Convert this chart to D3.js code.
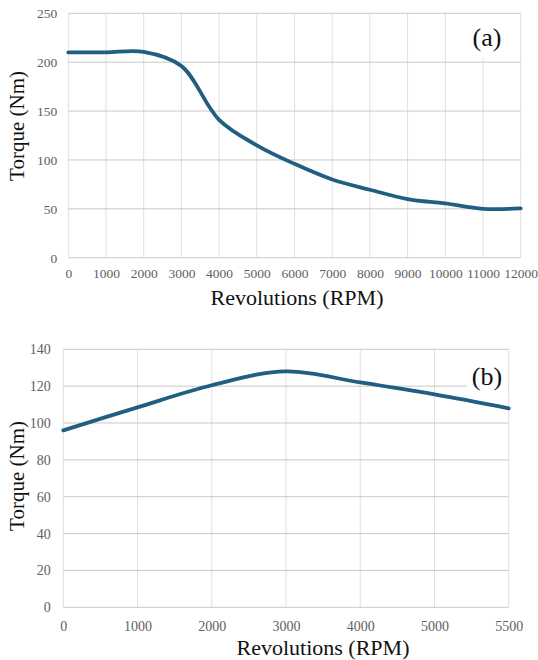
<!doctype html>
<html lang="en">
<head>
  <meta charset="utf-8">
  <title>Torque vs Revolutions</title>
  <style>
   body {
       margin: 0;
       background-color: #fff;
   }
  </style>
</head>
<body>
    <svg id="chart" width="538" height="660" xmlns="http://www.w3.org/2000/svg"></svg>
    <script src="https://cdn.jsdelivr.net/npm/d3@7"></script>
    <script>

     // panel (a): torque curve, every 1000 rpm
     var rpmA = [0, 1000, 2000, 3000, 4000, 5000, 6000, 7000, 8000, 9000, 10000, 11000, 12000];
     var torqueA = [210, 210, 210.5, 196, 141, 115, 96, 80, 69.5, 60, 55.5, 50, 50.5];
     var yTicksA = [0, 50, 100, 150, 200, 250];

     // panel (b): category axis, 5500 sits one step after 5000
     var rpmB = ["0", "1000", "2000", "3000", "4000", "5000", "5500"];
     var torqueB = [96, 108.5, 120.5, 128, 122, 115.5, 108];
     var yTicksB = [0, 20, 40, 60, 80, 100, 120, 140];

     var lineColor = "#215e82";
     var serif = "'Liberation Serif', 'DejaVu Serif', 'Noto Serif', serif";
     var svg = d3.select("#chart");

     function drawPanel(opts) {
	 var g = svg.append("g");
	 var x = opts.x, y = opts.y;
	 var x0 = x.range()[0], x1 = x.range()[1];
	 var y0 = y.range()[0], y1 = y.range()[1];

	 // vertical grid
	 g.append("g")
	  .selectAll("line")
	  .data(opts.xTicks)
	  .enter()
	  .append("line")
	  .attr("x1", function(d) { return x(d); })
	  .attr("x2", function(d) { return x(d); })
	  .attr("y1", y0)
	  .attr("y2", y1)
	  .attr("stroke", "#dfdfdf")
	  .attr("stroke-width", 1);

	 // horizontal grid
	 g.append("g")
	  .selectAll("line")
	  .data(opts.yTicks)
	  .enter()
	  .append("line")
	  .attr("x1", x0)
	  .attr("x2", x1)
	  .attr("y1", function(d) { return y(d); })
	  .attr("y2", function(d) { return y(d); })
	  .attr("stroke", "#c9c9c9")
	  .attr("stroke-width", 1);

	 // tick labels only, grid is drawn above
	 var xa = g.append("g")
		   .attr("transform", "translate(0," + y0 + ")")
		   .call(d3.axisBottom(x).tickValues(opts.xTicks).tickSize(0)
			   .tickPadding(opts.xPad).tickFormat(function(d) { return String(d); }));
	 xa.select(".domain").remove();

	 var ya = g.append("g")
		   .attr("transform", "translate(" + x0 + ",0)")
		   .call(d3.axisLeft(y).tickValues(opts.yTicks).tickSize(0).tickPadding(opts.yPad));
	 ya.select(".domain").remove();

	 [xa, ya].forEach(function(a) {
	     a.attr("font-family", serif)
	      .attr("font-size", opts.tickSize)
	      .selectAll("text")
	      .attr("fill", "#606060");
	 });

	 // white patch behind the panel letter
	 g.append("rect")
	  .attr("x", opts.box[0])
	  .attr("y", opts.box[1])
	  .attr("width", opts.box[2])
	  .attr("height", opts.box[3])
	  .attr("fill", "#fff");

	 g.append("text")
	  .attr("x", opts.letterPos[0])
	  .attr("y", opts.letterPos[1])
	  .attr("text-anchor", "middle")
	  .attr("font-family", serif)
	  .attr("font-size", 26)
	  .attr("fill", "#111")
	  .text(opts.letter);

	 var line = d3.line()
		      .x(function(d) { return x(d[0]); })
		      .y(function(d) { return y(d[1]); })
		      .curve(d3.curveCatmullRom.alpha(0.5));

	 g.append("path")
	  .datum(d3.zip(opts.xs, opts.ys))
	  .attr("d", line)
	  .attr("fill", "none")
	  .attr("stroke", lineColor)
	  .attr("stroke-width", 3.8)
	  .attr("stroke-linecap", "round");

	 g.append("text")
	  .attr("x", opts.xTitle[0])
	  .attr("y", opts.xTitle[1])
	  .attr("text-anchor", "middle")
	  .attr("font-family", serif)
	  .attr("font-size", 22)
	  .attr("fill", "#111")
	  .text("Revolutions (RPM)");

	 g.append("text")
	  .attr("transform", "translate(" + opts.yTitle[0] + "," + opts.yTitle[1] + ") rotate(-90)")
	  .attr("text-anchor", "middle")
	  .attr("font-family", serif)
	  .attr("font-size", 21)
	  .attr("fill", "#111")
	  .text("Torque (Nm)");
     }

     drawPanel({
	 x: d3.scaleLinear().domain([0, 12000]).range([68.3, 520.7]),
	 y: d3.scaleLinear().domain([0, 250]).range([257.7, 13.3]),
	 xTicks: rpmA,
	 yTicks: yTicksA,
	 xs: rpmA,
	 ys: torqueA,
	 tickSize: 13.5,
	 xPad: 11,
	 yPad: 11,
	 box: [466, 14, 41, 44],
	 letter: "(a)",
	 letterPos: [487, 46],
	 xTitle: [297, 305],
	 yTitle: [24, 126]
     });

     drawPanel({
	 x: d3.scalePoint().domain(rpmB).range([63.3, 508.7]),
	 y: d3.scaleLinear().domain([0, 140]).range([607.3, 349.3]),
	 xTicks: rpmB,
	 yTicks: yTicksB,
	 xs: rpmB,
	 ys: torqueB,
	 tickSize: 14,
	 xPad: 14,
	 yPad: 12.5,
	 box: [467, 355, 41, 40],
	 letter: "(b)",
	 letterPos: [487, 385],
	 xTitle: [323, 655],
	 yTitle: [24, 476]
     });
    </script>
</body>
</html>
